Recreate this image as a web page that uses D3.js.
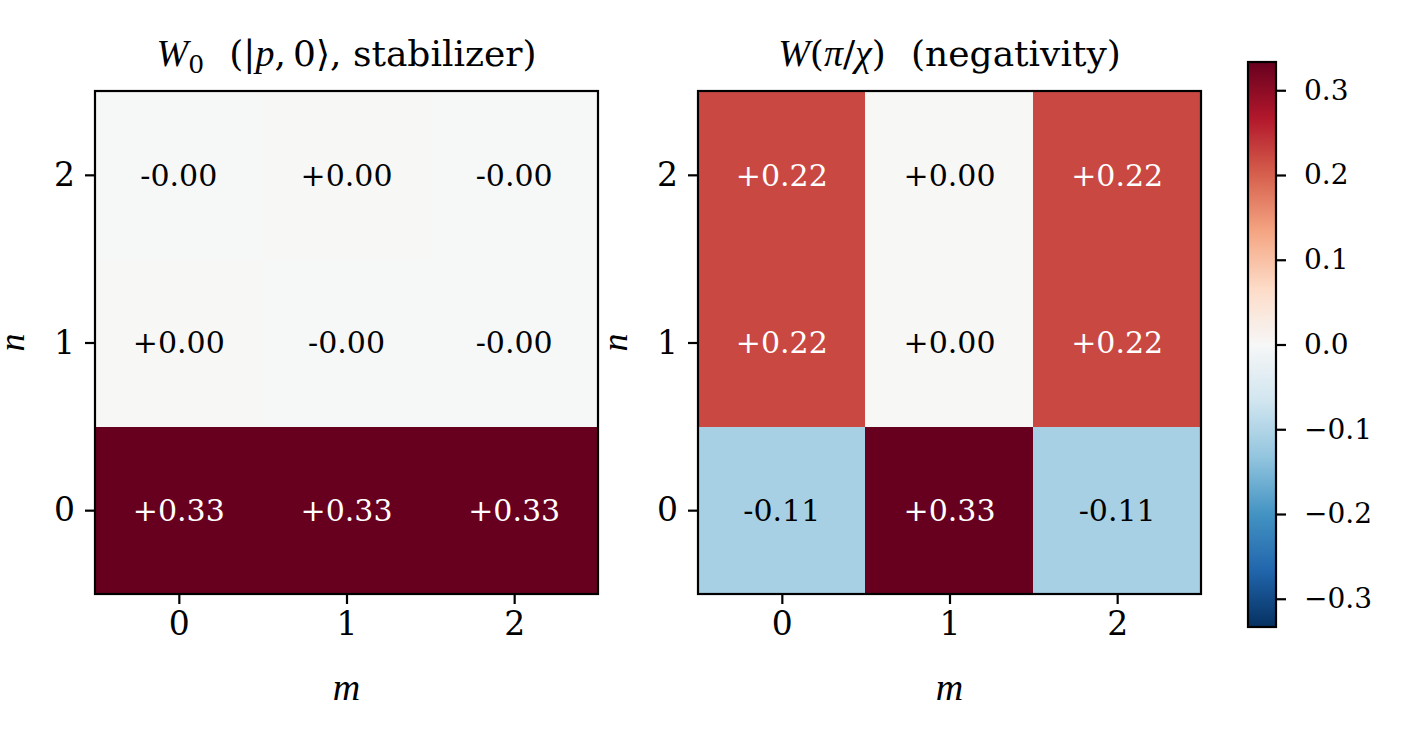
<!DOCTYPE html>
<html>
<head>
<meta charset="utf-8">
<script src="https://cdn.jsdelivr.net/npm/d3@7"></script>
<style>
  body { margin: 0; background: #fff; }
  svg text { font-family: "DejaVu Serif", serif; fill: #000; }
  .math { font-family: "Liberation Serif", serif; font-style: italic; }
</style>
</head>
<body>
<div id="chart"></div>
<script>
// grid indices and cell values, rows listed for n = 0, 1, 2
const mVals = [0, 1, 2];
const nVals = [0, 1, 2];
const stabilizerW = [
  [0.333, 0.333, 0.333],
  [0.001, -0.001, -0.001],
  [-0.001, 0.001, -0.001]
];
const negativityW = [
  [-0.111, 0.333, -0.111],
  [0.222, 0.001, 0.222],
  [0.222, 0.001, 0.222]
];
const cbarTicks = [-0.3, -0.2, -0.1, 0.0, 0.1, 0.2, 0.3];
const vLim = 1 / 3;

// matplotlib RdBu_r anchor colours
const rdbuR = ["#053061", "#2166ac", "#4393c3", "#92c5de", "#d1e5f0", "#f7f7f7",
  "#fddbc7", "#f4a582", "#d6604d", "#b2182b", "#67001f"];
const color = d3.scaleLinear()
  .domain(d3.range(rdbuR.length).map(i => -vLim + i * (2 * vLim) / (rdbuR.length - 1)))
  .range(rdbuR)
  .interpolate(d3.interpolateRgb)
  .clamp(true);

const fmt = v => (v < 0 ? "-" : "+") + Math.abs(v).toFixed(2);

const svg = d3.select("#chart")
  .append("svg")
  .attr("width", 1406)
  .attr("height", 743);

const panels = [
  { x0: 95, data: stabilizerW, title: "w0" },
  { x0: 698, data: negativityW, title: "wpi" }
];
const size = 503, axTop = 91;

panels.forEach(p => {
  const x = d3.scaleLinear().domain([-0.5, 2.5]).range([p.x0, p.x0 + size]);
  const y = d3.scaleLinear().domain([-0.5, 2.5]).range([axTop + size, axTop]);
  const g = svg.append("g");

  const cells = [];
  nVals.forEach((n, i) => mVals.forEach((m, j) => cells.push({ m, n, v: p.data[i][j] })));

  g.selectAll("rect.cell")
    .data(cells)
    .join("rect")
    .attr("class", "cell")
    .attr("x", d => Math.floor(x(d.m - 0.5)))
    .attr("y", d => Math.floor(y(d.n + 0.5)))
    .attr("width", Math.ceil(x(1) - x(0)) + 1)
    .attr("height", Math.ceil(y(0) - y(1)) + 1)
    .attr("shape-rendering", "crispEdges")
    .attr("fill", d => color(d.v));

  g.selectAll("text.val")
    .data(cells)
    .join("text")
    .attr("class", "val")
    .attr("x", d => x(d.m))
    .attr("y", d => y(d.n))
    .attr("dy", "0.36em")
    .attr("text-anchor", "middle")
    .style("font-size", "30px")
    .style("fill", d => Math.abs(d.v) > vLim / 2 ? "#fff" : "#000")
    .text(d => fmt(d.v));

  g.append("rect")
    .attr("x", p.x0).attr("y", axTop)
    .attr("width", size).attr("height", size)
    .attr("fill", "none").attr("stroke", "#000").attr("stroke-width", 2.2);

  const xAxis = g.append("g")
    .attr("transform", `translate(0,${axTop + size})`)
    .call(d3.axisBottom(x).tickValues(mVals).tickSize(10).tickPadding(8).tickFormat(d3.format("d")));
  const yAxis = g.append("g")
    .attr("transform", `translate(${p.x0},0)`)
    .call(d3.axisLeft(y).tickValues(nVals).tickSize(10).tickPadding(10).tickFormat(d3.format("d")));
  [xAxis, yAxis].forEach(a => {
    a.select(".domain").remove();
    a.selectAll("line").attr("stroke", "#000").attr("stroke-width", 2.2);
    a.selectAll("text").style("font-size", "33px").attr("fill", "#000").style("font-family", "DejaVu Serif");
  });

  g.append("text")
    .attr("class", "math")
    .attr("x", x(1)).attr("y", 700)
    .attr("text-anchor", "middle")
    .style("font-size", "38px")
    .text("m");
  g.append("text")
    .attr("class", "math")
    .attr("transform", `translate(${p.x0 - 71},${y(1)}) rotate(-90)`)
    .attr("text-anchor", "middle")
    .style("font-size", "36px")
    .text("n");

  const t = g.append("text")
    .attr("x", x(1)).attr("y", 66)
    .attr("text-anchor", "middle")
    .style("font-size", "36px");
  if (p.title === "w0") {
    t.append("tspan").attr("class", "math").style("font-size", "38px").text("W");
    t.append("tspan").attr("dy", 7).style("font-size", "25px").text("0");
    t.append("tspan").attr("dy", -7).text("\u2002\u2009(|");
    t.append("tspan").attr("class", "math").style("font-size", "38px").text("p");
    t.append("tspan").text(",\u20090\u27E9, stabilizer)");
  } else {
    t.append("tspan").attr("class", "math").style("font-size", "38px").text("W");
    t.append("tspan").text("(");
    t.append("tspan").attr("class", "math").style("font-size", "38px").text("\u03C0");
    t.append("tspan").text("/");
    t.append("tspan").attr("class", "math").style("font-size", "38px").text("\u03C7");
    t.append("tspan").text(")\u2002\u2009(negativity)");
  }
});

// colorbar
const cb = { x: 1248, w: 28, y0: 62, y1: 627 };
const cy = d3.scaleLinear().domain([-vLim, vLim]).range([cb.y1, cb.y0]);
const grad = svg.append("defs").append("linearGradient")
  .attr("id", "cbgrad").attr("x1", 0).attr("y1", 1).attr("x2", 0).attr("y2", 0);
grad.selectAll("stop")
  .data(d3.range(0, 1.0001, 0.02))
  .join("stop")
  .attr("offset", d => d)
  .attr("stop-color", d => color(-vLim + d * 2 * vLim));
svg.append("rect")
  .attr("x", cb.x).attr("y", cb.y0)
  .attr("width", cb.w).attr("height", cb.y1 - cb.y0)
  .attr("fill", "url(#cbgrad)")
  .attr("stroke", "#000").attr("stroke-width", 2.2);
const cAxis = svg.append("g")
  .attr("transform", `translate(${cb.x + cb.w},0)`)
  .call(d3.axisRight(cy).tickValues(cbarTicks).tickSize(10).tickPadding(18)
    .tickFormat(d => (d < 0 ? "\u2212" : "") + Math.abs(d).toFixed(1)));
cAxis.select(".domain").remove();
cAxis.selectAll("line").attr("stroke", "#000").attr("stroke-width", 2.2);
cAxis.selectAll("text").style("font-size", "28px").attr("fill", "#000").style("font-family", "DejaVu Serif");
</script>
</body>
</html>
